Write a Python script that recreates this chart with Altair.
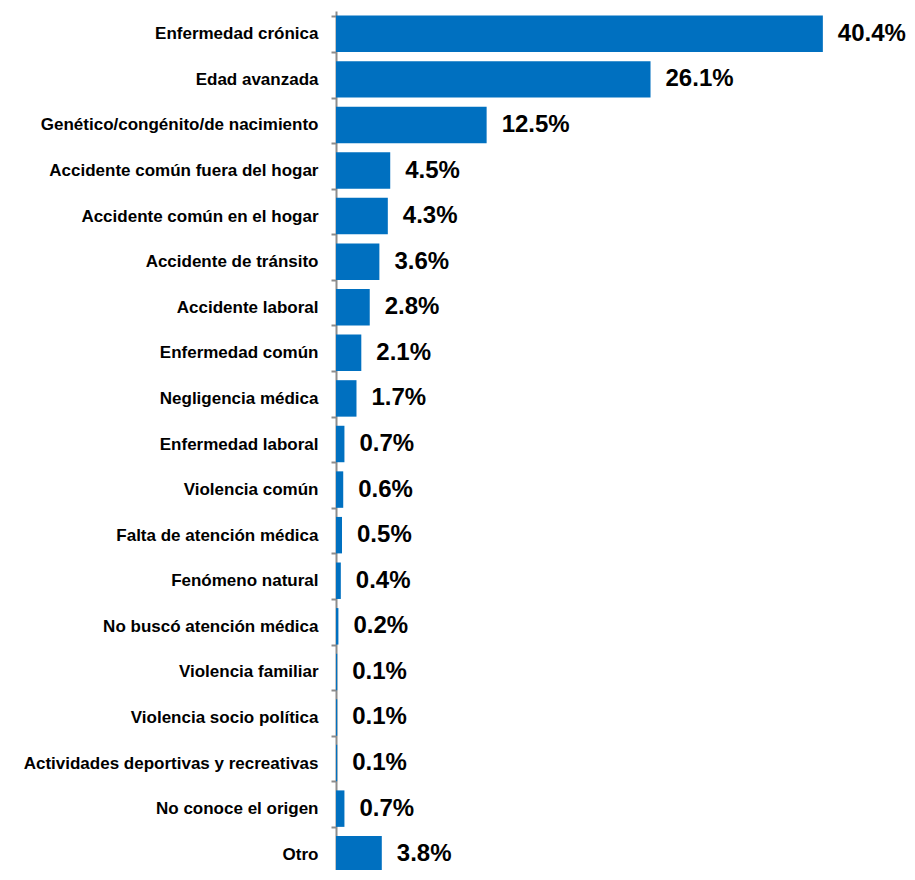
import altair as alt
import pandas as pd

categories = [
    "Enfermedad crónica",
    "Edad avanzada",
    "Genético/congénito/de nacimiento",
    "Accidente común fuera del hogar",
    "Accidente común en el hogar",
    "Accidente de tránsito",
    "Accidente laboral",
    "Enfermedad común",
    "Negligencia médica",
    "Enfermedad laboral",
    "Violencia común",
    "Falta de atención médica",
    "Fenómeno natural",
    "No buscó atención médica",
    "Violencia familiar",
    "Violencia socio política",
    "Actividades deportivas y recreativas",
    "No conoce el origen",
    "Otro",
]
values = [40.4, 26.1, 12.5, 4.5, 4.3, 3.6, 2.8, 2.1, 1.7, 0.7, 0.6, 0.5, 0.4, 0.2, 0.1, 0.1, 0.1, 0.7, 3.8]
labels = ["40.4%", "26.1%", "12.5%", "4.5%", "4.3%", "3.6%", "2.8%", "2.1%", "1.7%", "0.7%",
          "0.6%", "0.5%", "0.4%", "0.2%", "0.1%", "0.1%", "0.1%", "0.7%", "3.8%"]

df = pd.DataFrame({"cat": categories, "val": values, "label": labels})

FONT = "Liberation Sans Narrow, Arial Narrow, Liberation Sans, Arial, sans-serif"

base = alt.Chart(df).encode(
    y=alt.Y(
        "cat:N",
        sort=None,
        scale=alt.Scale(paddingInner=0.2, paddingOuter=0.1),
        axis=alt.Axis(
            title=None,
            labelFont=FONT,
            labelFontSize=17,
            labelFontWeight="bold",
            labelColor="black",
            domainColor="#8c8c8c",
            domainWidth=2,
            tickColor="#8c8c8c",
            tickWidth=2,
            tickSize=5,
            tickBand="extent",
            labelPadding=13,
            labelLimit=400,
        ),
    )
)

xscale = alt.Scale(domain=[0, 46.47], nice=False)

bars = base.mark_bar(color="#0070C0").encode(
    x=alt.X("val:Q", scale=xscale, axis=None)
)
text = base.mark_text(
    align="left", baseline="middle", dx=15, font=FONT, fontSize=24,
    fontWeight="bold", color="black"
).encode(x=alt.X("val:Q", scale=xscale, axis=None), text="label:N")

chart = (
    (bars + text)
    .properties(
        width=560,
        height=866,
        padding={"left": 328, "top": 3, "right": 10, "bottom": -7},
        autosize="none",
    )
    .configure_view(stroke=None)
)

chart.save("out.html", embed_options={"renderer": "svg", "actions": False})
